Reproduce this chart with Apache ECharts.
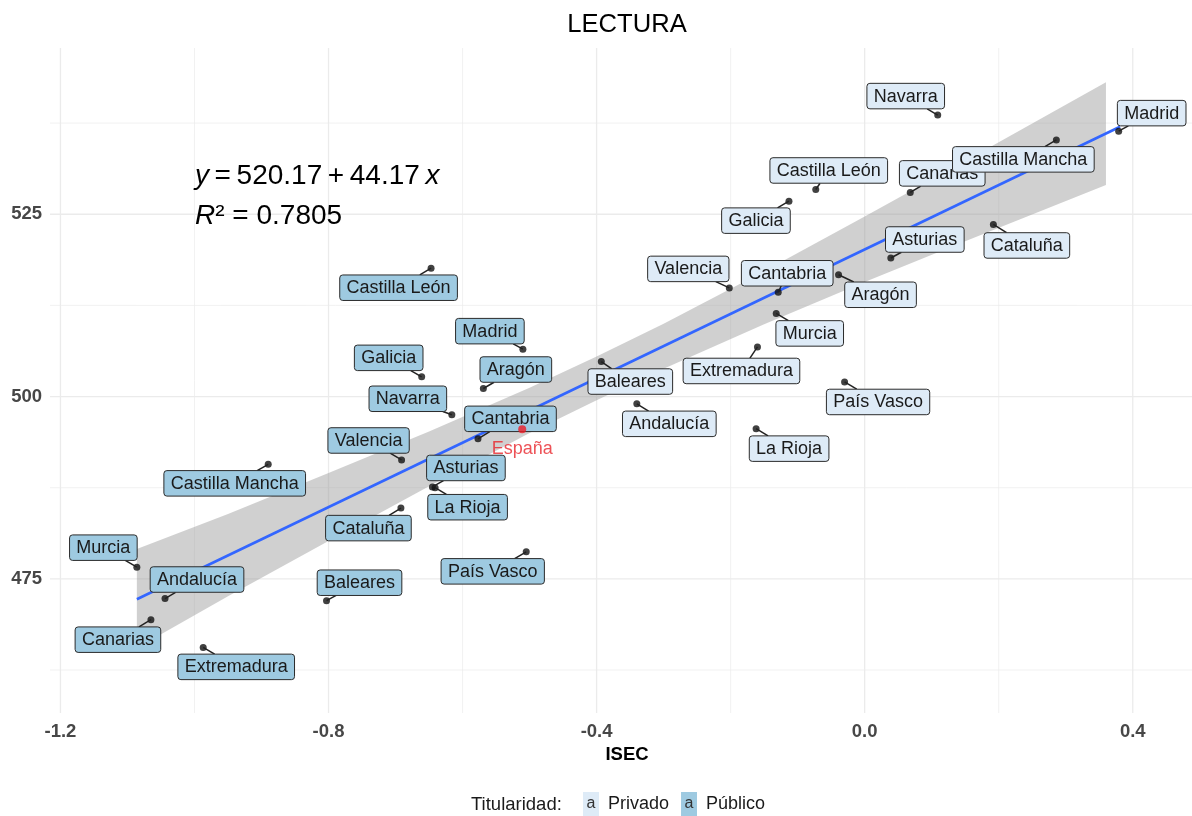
<!DOCTYPE html>
<html>
<head>
<meta charset="utf-8">
<title>LECTURA</title>
<script src="https://cdn.jsdelivr.net/npm/echarts@6/dist/echarts.min.js"></script>
<style>
  html, body { margin: 0; padding: 0; background: #fff; }
  #chart { width: 1192px; height: 816px; }
</style>
</head>
<body>
<div id="chart"></div>
<script>
// ---- data ----
// Privado (order matters: later labels are drawn on top)
var privNames = ['Navarra', 'Madrid', 'Castilla León', 'Canarias', 'Castilla Mancha', 'Galicia', 'Cataluña', 'Asturias',
  'Valencia', 'Cantabria', 'Aragón', 'Murcia', 'Extremadura', 'Baleares', 'País Vasco', 'Andalucía', 'La Rioja'];
var privISEC = [0.109, 0.379, -0.073, 0.068, 0.286, -0.113, 0.192, 0.039,
  -0.202, -0.129, -0.039, -0.132, -0.160, -0.393, -0.030, -0.340, -0.162];
var privLectura = [538.6, 536.4, 528.4, 528.0, 535.2, 526.8, 523.6, 519.0,
  514.9, 514.3, 516.7, 511.4, 506.8, 504.8, 502.0, 499.0, 495.6];

// Público
var pubNames = ['Castilla León', 'Madrid', 'Galicia', 'Aragón', 'Navarra', 'Cantabria', 'Valencia', 'Castilla Mancha',
  'Asturias', 'La Rioja', 'Cataluña', 'País Vasco', 'Murcia', 'Andalucía', 'Baleares', 'Canarias', 'Extremadura'];
var pubISEC = [-0.647, -0.510, -0.661, -0.569, -0.616, -0.577, -0.691, -0.890,
  -0.645, -0.641, -0.692, -0.505, -1.086, -1.044, -0.803, -1.065, -0.987];
var pubLectura = [517.6, 506.5, 502.7, 501.1, 497.5, 494.2, 491.3, 490.7,
  487.6, 487.5, 484.7, 478.7, 476.6, 472.3, 472.0, 469.4, 465.6];

// España
var espISEC = [-0.511];
var espLectura = [495.5];

// regression line ends and confidence band
var fitISEC = [-1.086, 0.381];
var fitLectura = [472.2, 537.0];
var bandISEC = [-1.086, -0.95, -0.8, -0.65, -0.5, -0.4, -0.3, -0.15, 0, 0.15, 0.36];
var bandLow = [465.5, 472.6, 480.2, 487.7, 495.0, 499.5, 503.8, 509.9, 515.7, 521.3, 529.0];
var bandHigh = [479.1, 483.9, 489.5, 495.2, 501.2, 505.5, 510.0, 517.2, 524.7, 532.3, 543.1];

// axis ticks
var xMajor = [-1.2, -0.8, -0.4, 0, 0.4];
var xMinor = [-1.0, -0.6, -0.2, 0.2];
var yMajor = [475, 500, 525];
var yMinor = [462.5, 487.5, 512.5, 537.5];

// ---- layout / style ----
var X_MIN = -1.2156, X_MAX = 0.4884;
var Y_MIN = 456.6, Y_MAX = 547.8;
var FONT = '"Liberation Sans", Arial, Helvetica, sans-serif';
var LABEL_FONT = '18px ' + FONT;
var PAD_X = 6.8, BOX_H = 25.5;
var FILL_PRIV = '#deebf7', FILL_PUB = '#9ecae1';

// label box centre offsets from the point, px (repelled positions)
var privOffsets = [[-32, -19], [33, -18], [13, -19], [32, -19], [-33, 19.5], [-33, 19.5], [33.5, 21], [34, -18.5],
  [-41, -19], [9, -19], [42, 20], [33.5, 20], [-16, 24], [29, 20], [33.5, 20], [32.5, 20], [33, 20]];
var pubOffsets = [[-32.5, 19.5], [-33, -18], [-33, -19], [32.5, -19], [-44, -16], [32.5, -20], [-33, -19.5], [-33.5, 19],
  [33.5, -19], [32.5, 19.5], [-32.5, 20], [-33.5, 19.5], [-33.5, -19.5], [32, -19], [33, -18], [-33, 20], [33, 19.5]];

var measureCtx = document.createElement('canvas').getContext('2d');
measureCtx.font = LABEL_FONT;
function textWidth(s) {
  return measureCtx.measureText(s).width;
}

function pairs(xs, ys) {
  return xs.map(function (x, i) { return [x, ys[i]]; });
}

function labelRenderer(names, offsets, fill) {
  return function (params, api) {
    var i = params.dataIndex;
    var p = api.coord([api.value(0), api.value(1)]);
    var dx = offsets[i][0], dy = offsets[i][1];
    var cx = p[0] + dx, cy = p[1] + dy;
    var w = textWidth(names[i]) + 2 * PAD_X, h = BOX_H;
    var s = Math.min(w / 2 / Math.max(Math.abs(dx), 1e-6), h / 2 / Math.max(Math.abs(dy), 1e-6));
    var children = [];
    if (s < 1) {
      children.push({
        type: 'line',
        shape: { x1: p[0], y1: p[1], x2: cx - s * dx, y2: cy - s * dy },
        style: { stroke: '#222', lineWidth: 1.5 }
      });
    }
    children.push({
      type: 'rect',
      shape: { x: cx - w / 2, y: cy - h / 2, width: w, height: h, r: 3 },
      style: { fill: fill, stroke: '#2b2b2b', lineWidth: 1 }
    });
    children.push({
      type: 'text',
      x: cx, y: cy + 0.5,
      style: {
        text: names[i], font: LABEL_FONT, fill: '#1a1a1a',
        align: 'center', verticalAlign: 'middle', textAlign: 'center', textVerticalAlign: 'middle'
      }
    });
    return { type: 'group', children: children };
  };
}

var gridColor = '#ebebeb';

var chart = echarts.init(document.getElementById('chart'));
chart.setOption({
  animation: false,
  grid: { left: 50, right: 0, top: 48, bottom: 103, containLabel: false, outerBoundsMode: 'none' },
  xAxis: {
    type: 'value', min: X_MIN, max: X_MAX,
    axisLine: { show: false }, axisTick: { show: false }, splitLine: { show: false },
    axisLabel: {
      customValues: xMajor,
      formatter: function (v) { return v.toFixed(1); },
      color: '#474747', fontWeight: 'bold', fontSize: 18.5, fontFamily: FONT, margin: 9
    }
  },
  yAxis: {
    type: 'value', min: Y_MIN, max: Y_MAX,
    axisLine: { show: false }, axisTick: { show: false }, splitLine: { show: false },
    axisLabel: {
      customValues: yMajor,
      formatter: function (v) { return String(v); },
      color: '#474747', fontWeight: 'bold', fontSize: 18.5, fontFamily: FONT, margin: 8
    }
  },
  legend: {
    data: ['Privado', 'Público'],
    left: 578, top: 792, padding: 0,
    icon: 'none', itemWidth: 0, itemHeight: 24, itemGap: 7,
    formatter: function (name) {
      return (name === 'Privado' ? '{pv|a}' : '{pb|a}') + '{gap| }' + name;
    },
    textStyle: {
      fontSize: 18, fontFamily: FONT, color: '#1a1a1a',
      rich: {
        pv: { backgroundColor: FILL_PRIV, width: 16, height: 24, lineHeight: 24, align: 'center', fontSize: 16, color: '#333', fontFamily: FONT },
        pb: { backgroundColor: FILL_PUB, width: 16, height: 24, lineHeight: 24, align: 'center', fontSize: 16, color: '#333', fontFamily: FONT },
        gap: { width: 9 }
      }
    }
  },
  graphic: [
    {
      type: 'text', x: 627, y: 25,
      style: { text: 'LECTURA', font: '25.6px ' + FONT, fill: '#000', align: 'center', verticalAlign: 'middle', textAlign: 'center', textVerticalAlign: 'middle' }
    },
    {
      type: 'text', x: 627, y: 755,
      style: { text: 'ISEC', font: 'bold 18.5px ' + FONT, fill: '#000', align: 'center', verticalAlign: 'middle', textAlign: 'center', textVerticalAlign: 'middle' }
    },
    {
      type: 'text', x: 471, y: 805,
      style: { text: 'Titularidad:', font: '18.5px ' + FONT, fill: '#1a1a1a', align: 'left', verticalAlign: 'middle', textAlign: 'left', textVerticalAlign: 'middle' }
    },
    {
      type: 'text', x: 195, y: 176, z: 100,
      style: {
        text: '{i|y}\u2009=\u2009520.17\u2009+\u200944.17\u2009{i|x}', font: '28px ' + FONT, fill: '#000',
        align: 'left', verticalAlign: 'middle', textAlign: 'left', textVerticalAlign: 'middle',
        rich: { i: { fontStyle: 'italic', fontSize: 28, fontFamily: FONT } }
      }
    },
    {
      type: 'text', x: 195, y: 216, z: 100,
      style: {
        text: '{i|R}² = 0.7805', font: '28px ' + FONT, fill: '#000',
        align: 'left', verticalAlign: 'middle', textAlign: 'left', textVerticalAlign: 'middle',
        rich: { i: { fontStyle: 'italic', fontSize: 28, fontFamily: FONT } }
      }
    }
  ],
  series: [
    {
      // vertical grid lines
      type: 'custom', silent: true, z: 0,
      data: xMajor.map(function (v) { return [v, Y_MIN, 1]; }).concat(xMinor.map(function (v) { return [v, Y_MIN, 0]; })),
      renderItem: function (params, api) {
        var cs = params.coordSys;
        var x = api.coord([api.value(0), Y_MIN])[0];
        return { type: 'line', shape: { x1: x, y1: cs.y, x2: x, y2: cs.y + cs.height },
          style: { stroke: gridColor, lineWidth: api.value(2) ? 1.3 : 0.7 } };
      }
    },
    {
      // horizontal grid lines
      type: 'custom', silent: true, z: 0,
      data: yMajor.map(function (v) { return [X_MIN, v, 1]; }).concat(yMinor.map(function (v) { return [X_MIN, v, 0]; })),
      renderItem: function (params, api) {
        var cs = params.coordSys;
        var y = api.coord([X_MIN, api.value(1)])[1];
        return { type: 'line', shape: { x1: cs.x, y1: y, x2: cs.x + cs.width, y2: y },
          style: { stroke: gridColor, lineWidth: api.value(2) ? 1.3 : 0.7 } };
      }
    },
    {
      // confidence band
      type: 'custom', silent: true, z: 1,
      data: bandISEC.map(function (x, i) { return [x, bandLow[i], bandHigh[i]]; }),
      renderItem: function (params, api) {
        if (params.dataIndex !== 0) return null;
        var pts = [], i;
        for (i = 0; i < bandISEC.length; i++) pts.push(api.coord([bandISEC[i], bandHigh[i]]));
        for (i = bandISEC.length - 1; i >= 0; i--) pts.push(api.coord([bandISEC[i], bandLow[i]]));
        return { type: 'polygon', shape: { points: pts }, style: { fill: 'rgba(150,150,150,0.45)' } };
      }
    },
    {
      type: 'line', silent: true, z: 2,
      data: pairs(fitISEC, fitLectura),
      symbol: 'none',
      lineStyle: { color: '#3366ff', width: 2.6 }
    },
    {
      name: 'Privado', type: 'scatter', z: 3, silent: true,
      data: pairs(privISEC, privLectura),
      symbolSize: 7, itemStyle: { color: '#111' }
    },
    {
      name: 'Público', type: 'scatter', z: 3, silent: true,
      data: pairs(pubISEC, pubLectura),
      symbolSize: 7, itemStyle: { color: '#111' }
    },
    {
      name: 'Público', type: 'custom', z: 4, silent: true,
      itemStyle: { color: FILL_PUB },
      data: pairs(pubISEC, pubLectura),
      renderItem: labelRenderer(pubNames, pubOffsets, FILL_PUB)
    },
    {
      name: 'Privado', type: 'custom', z: 4, silent: true,
      itemStyle: { color: FILL_PRIV },
      data: pairs(privISEC, privLectura),
      renderItem: labelRenderer(privNames, privOffsets, FILL_PRIV)
    },
    {
      name: 'España', type: 'scatter', z: 6, silent: true,
      data: pairs(espISEC, espLectura),
      symbolSize: 8, itemStyle: { color: '#ee1c25' },
      label: {
        show: true, position: 'bottom', distance: 7,
        formatter: 'España', color: '#e8262c', fontSize: 18, fontFamily: FONT
      }
    }
  ]
});
</script>
</body>
</html>
